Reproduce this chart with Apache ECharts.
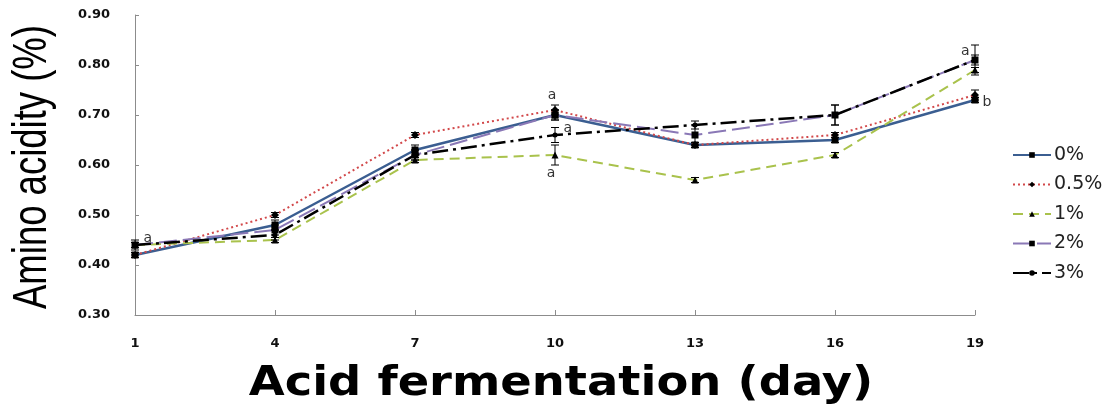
<!DOCTYPE html>
<html>
<head>
<meta charset="utf-8">
<script src="https://cdn.jsdelivr.net/npm/echarts@6/dist/echarts.min.js"></script>
<style>
  html, body { margin: 0; padding: 0; background: #fff; }
  #chart { width: 1114px; height: 412px; }
</style>
</head>
<body>
<div id="chart"></div>
<script>
// Fermentation days (x categories)
const days = ['1', '4', '7', '10', '13', '16', '19'];
const yTicks = [0.30, 0.40, 0.50, 0.60, 0.70, 0.80, 0.90];

// Amino acidity (%) by salt concentration
const names = ['0%', '0.5%', '1%', '2%', '3%'];
const amino0 = [0.42, 0.48, 0.63, 0.70, 0.64, 0.65, 0.73];
const amino05 = [0.42, 0.50, 0.66, 0.71, 0.64, 0.66, 0.74];
const amino1 = [0.44, 0.45, 0.61, 0.62, 0.57, 0.62, 0.79];
const amino2 = [0.44, 0.47, 0.62, 0.70, 0.66, 0.70, 0.81];
const amino3 = [0.44, 0.46, 0.62, 0.66, 0.68, 0.70, 0.81];

// Standard deviations
const sd0 = [0.005, 0.010, 0.010, 0.010, 0.005, 0.005, 0.005];
const sd05 = [0.005, 0.005, 0.005, 0.010, 0.005, 0.005, 0.010];
const sd1 = [0.005, 0.005, 0.005, 0.020, 0.005, 0.005, 0.005];
const sd2 = [0.005, 0.010, 0.010, 0.010, 0.020, 0.020, 0.030];
const sd3 = [0.010, 0.010, 0.010, 0.015, 0.008, 0.020, 0.010];

// Significance letters
const sig0 = ['', '', '', '', '', '', 'b'];
const sig05 = ['', '', '', 'a', '', '', ''];
const sig1 = ['', '', '', 'a', '', '', ''];
const sig2 = ['', '', '', '', '', '', 'a'];
const sig3 = ['a', '', '', 'a', '', '', ''];

const values = [amino0, amino05, amino1, amino2, amino3];
const errors = [sd0, sd05, sd1, sd2, sd3];
const letters = [sig0, sig05, sig1, sig2, sig3];

const lineColors = ['#3B5E91', '#D2484A', '#A9C24C', '#8A78B6', '#000000'];
const lineTypes = ['solid', [2, 3], [10, 6], [18, 6], [16, 5, 3, 5]];
const lineWidths = [2.5, 2, 2, 2, 2.5];
const symbols = ['rect', 'diamond', 'triangle', 'rect', 'circle'];
const symbolSizes = [7, 8, 7, 7, 5];
// label placement for each series' letters
const letterPlace = [
  { position: 'right', offset: [0, 2] },
  { position: 'top', offset: [-3, 0] },
  { position: 'bottom', offset: [-4, 4] },
  { position: 'left', offset: [2, -9] },
  { position: 'right', offset: [2, -7] }
];

const letterStyle = { fontFamily: 'DejaVu Sans', fontSize: 14, color: '#333' };

const lineSeries = names.map((name, i) => ({
  name: name,
  type: 'line',
  data: values[i].map((v, j) => {
    const item = { value: v };
    if (letters[i][j]) {
      item.label = Object.assign({
        show: true,
        formatter: letters[i][j],
        distance: 4
      }, letterPlace[i], letterStyle);
    }
    return item;
  }),
  symbol: symbols[i],
  symbolSize: symbolSizes[i],
  itemStyle: { color: '#000' },
  lineStyle: { color: lineColors[i], type: lineTypes[i], width: lineWidths[i] },
  emphasis: { disabled: true },
  z: 3 + i,
  animation: false
}));

// Error bars drawn from value ± sd
const errData = [];
values.forEach((vals, i) => {
  vals.forEach((v, j) => {
    errData.push([j, v - errors[i][j], v + errors[i][j]]);
  });
});

const errorSeries = {
  type: 'custom',
  data: errData,
  z: 10,
  silent: true,
  animation: false,
  renderItem: function (params, api) {
    const x = api.value(0);
    const lo = api.coord([x, api.value(1)]);
    const hi = api.coord([x, api.value(2)]);
    const cap = 4;
    const st = { stroke: '#000', lineWidth: 1 };
    return {
      type: 'group',
      children: [
        { type: 'line', shape: { x1: lo[0], y1: lo[1], x2: hi[0], y2: hi[1] }, style: st },
        { type: 'line', shape: { x1: lo[0] - cap, y1: lo[1], x2: lo[0] + cap, y2: lo[1] }, style: st },
        { type: 'line', shape: { x1: hi[0] - cap, y1: hi[1], x2: hi[0] + cap, y2: hi[1] }, style: st }
      ]
    };
  }
};

const chart = echarts.init(document.getElementById('chart'), null, { renderer: 'canvas' });
chart.setOption({
  animation: false,
  backgroundColor: '#fff',
  grid: { left: 135, right: 139, top: 15, bottom: 97, containLabel: false },
  legend: {
    data: names,
    orient: 'vertical',
    left: 1012,
    top: 145,
    padding: 0,
    itemWidth: 38,
    itemHeight: 7,
    itemGap: 9.5,
    textStyle: { fontFamily: 'DejaVu Sans', fontSize: 19, color: '#222', lineHeight: 20, padding: [0, 0, 0, -2] },
    selectedMode: false
  },
  xAxis: {
    type: 'category',
    data: days,
    boundaryGap: false,
    axisLine: { lineStyle: { color: '#8c8c8c', width: 1 } },
    axisTick: { inside: true, length: 5, lineStyle: { color: '#8c8c8c' } },
    axisLabel: { margin: 22, fontFamily: 'DejaVu Sans', fontWeight: 'bold', fontSize: 13, color: '#111' },
    splitLine: { show: false }
  },
  yAxis: {
    type: 'value',
    min: yTicks[0],
    max: yTicks[yTicks.length - 1],
    interval: 0.1,
    axisLine: { show: true, lineStyle: { color: '#8c8c8c', width: 1 } },
    axisTick: { show: true, inside: true, length: 4, lineStyle: { color: '#8c8c8c' } },
    axisLabel: {
      margin: 25,
      fontFamily: 'DejaVu Sans',
      fontWeight: 'bold',
      fontSize: 13,
      color: '#111',
      formatter: v => v.toFixed(2)
    },
    splitLine: { show: false }
  },
  graphic: [
    {
      type: 'text',
      x: 33,
      y: 167,
      rotation: Math.PI / 2,
      scaleY: 1.32,
      style: {
        text: 'Amino acidity (%)',
        fontFamily: 'Liberation Sans',
        fontSize: 36.5,
        fill: '#000',
        textAlign: 'center',
        textVerticalAlign: 'middle'
      }
    },
    {
      type: 'text',
      x: 561,
      y: 385,
      scaleX: 1.16,
      style: {
        text: 'Acid fermentation (day)',
        fontFamily: 'DejaVu Sans',
        fontWeight: 'bold',
        fontSize: 40,
        fill: '#000',
        textAlign: 'center',
        textVerticalAlign: 'middle'
      }
    }
  ],
  series: lineSeries.concat([errorSeries])
});
</script>
</body>
</html>
